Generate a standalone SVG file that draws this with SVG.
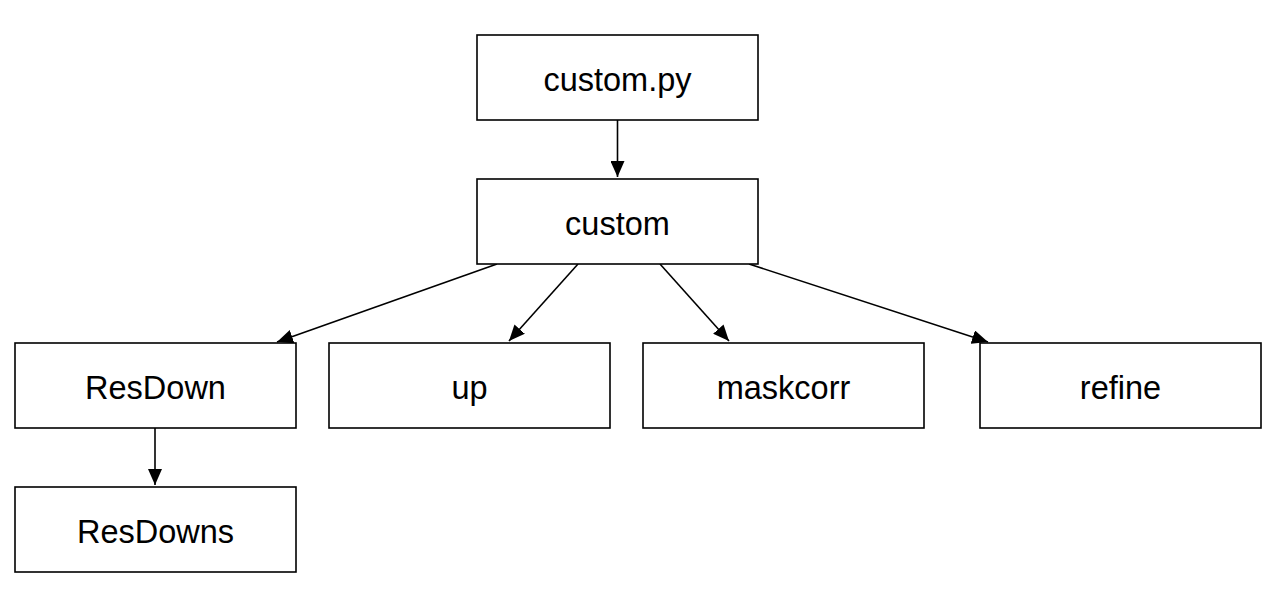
<svg xmlns="http://www.w3.org/2000/svg" width="1270" height="602" viewBox="0 0 1270 602">
<style>
.box{fill:#fff;stroke:#000;stroke-width:1.6}
.lbl{font-family:"Liberation Sans",Arial,sans-serif;font-size:32.5px;fill:#000;text-anchor:middle;dominant-baseline:central}
.edge{stroke:#000;stroke-width:1.6;fill:none;marker-end:url(#ah)}
</style>
<defs>
<marker id="ah" markerWidth="16" markerHeight="14" viewBox="0 0 16 14" refX="16" refY="7" orient="auto" markerUnits="userSpaceOnUse">
<path d="M0,0 L16,7 L0,14 Z" fill="#000"/>
</marker>
</defs>
<rect width="1270" height="602" fill="#fff"/>
<g id="connectors">
<line class="edge" x1="617.5" y1="120" x2="617.5" y2="177"/>
<line class="edge" x1="497" y1="264" x2="277" y2="342"/>
<line class="edge" x1="578" y1="264" x2="509" y2="341"/>
<line class="edge" x1="660" y1="264" x2="729" y2="341"/>
<line class="edge" x1="749" y1="264" x2="988" y2="342"/>
<line class="edge" x1="155" y1="428" x2="155" y2="485"/>
</g>
<g id="custom_py"><rect class="box" x="477" y="35" width="281" height="85"/><text class="lbl" x="617.5" y="79.5">custom.py</text></g>
<g id="custom"><rect class="box" x="477" y="179" width="281" height="85"/><text class="lbl" x="617.5" y="223.5">custom</text></g>
<g id="ResDown"><rect class="box" x="15" y="343" width="281" height="85"/><text class="lbl" x="155.5" y="387.5">ResDown</text></g>
<g id="up"><rect class="box" x="329" y="343" width="281" height="85"/><text class="lbl" x="469.5" y="387.5">up</text></g>
<g id="maskcorr"><rect class="box" x="643" y="343" width="281" height="85"/><text class="lbl" x="783.5" y="387.5">maskcorr</text></g>
<g id="refine"><rect class="box" x="980" y="343" width="281" height="85"/><text class="lbl" x="1120.5" y="387.5">refine</text></g>
<g id="ResDowns"><rect class="box" x="15" y="487" width="281" height="85"/><text class="lbl" x="155.5" y="531.5">ResDowns</text></g>
</svg>
